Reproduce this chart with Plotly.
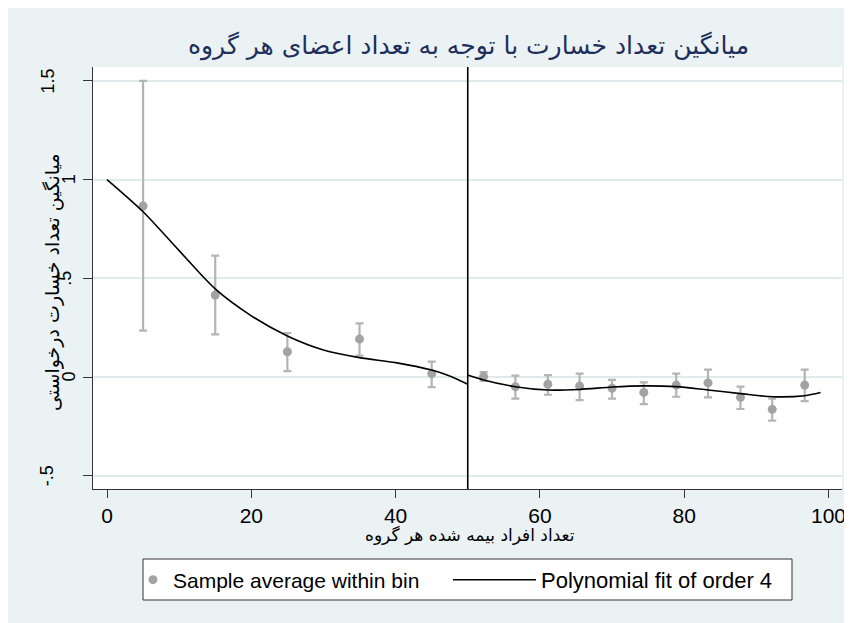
import plotly.graph_objects as go

# ---- data ----
bin_x = [5, 15, 25, 35, 45, 52.2, 56.6, 61.1, 65.5, 70.0, 74.4, 78.9, 83.3, 87.8, 92.2, 96.7]
bin_mean = [0.866, 0.415, 0.128, 0.192, 0.017, 0.002, -0.049, -0.037, -0.046, -0.057,
            -0.078, -0.041, -0.030, -0.103, -0.164, -0.041]
ci_upper = [1.50, 0.615, 0.223, 0.272, 0.078, 0.025, 0.007, 0.010, 0.017, -0.015,
            -0.027, 0.017, 0.037, -0.049, -0.110, 0.037]
ci_lower = [0.235, 0.216, 0.030, 0.108, -0.051, -0.020, -0.110, -0.090, -0.117, -0.110,
            -0.137, -0.100, -0.103, -0.162, -0.221, -0.122]

fit_left_x = [0, 5, 10, 15, 20, 25, 30, 35, 40, 45, 47.5, 50]
fit_left_y = [1.0, 0.837, 0.64, 0.446, 0.31, 0.208, 0.137, 0.098, 0.073, 0.035, 0.005, -0.037]
fit_right_x = [50, 52.2, 56.6, 61.1, 65.5, 70.0, 74.4, 78.9, 83.3, 87.8, 92.2, 96.7, 98.9]
fit_right_y = [0.010, -0.015, -0.049, -0.066, -0.063, -0.051, -0.045, -0.049, -0.066,
               -0.084, -0.100, -0.095, -0.079]

cutoff = 50
x_ticks = [0, 20, 40, 60, 80, 100]
y_ticks = [-0.5, 0, 0.5, 1, 1.5]
y_ticklabels = ["-.5", "0", ".5", "1", "1.5"]

title_text = "میانگین تعداد خسارت با توجه به تعداد اعضای هر گروه"
y_title = "میانگین تعداد خسارت درخواستی"
x_title = "تعداد افراد بیمه شده هر گروه"
legend_points = "Sample average within bin"
legend_fit = "Polynomial fit of order 4"

# ---- styling / layout (figure pixel coords) ----
BG = "#EAF2F3"
GRID = "#E0E9EC"
W, H = 852, 623
L, R, T, B = 85, 834, 59, 481
PW, PH = R - L, B - T
LAT = "Liberation Sans, Arial, sans-serif"
FA = "DejaVu Sans, Liberation Sans, sans-serif"
# horizontal centre (px) of each rotated y tick label, as placed in the reference
ylabel_px = [38.5, 60.5, 57.5, 60.5, 39.5]


def px_x(p):
    return (p - L) / PW


def px_y(p):
    return (B - p) / PH


# axis ranges from the reference's pixel scale (x: 0 at 99px, 7.215 px/unit; y: 0 at 369px, 197.4 px/unit)
x_range = [(L - 99) / 7.215, (R - 99) / 7.215]
y_range = [(369 - B) / 197.4, (369 - T) / 197.4]

err_plus = [u - m for u, m in zip(ci_upper, bin_mean)]
err_minus = [m - l for m, l in zip(bin_mean, ci_lower)]

fig = go.Figure()
fig.add_trace(go.Scatter(
    x=bin_x, y=bin_mean, mode="markers", showlegend=False,
    marker=dict(size=1, color="rgba(0,0,0,0)"),
    error_y=dict(type="data", symmetric=False, array=err_plus, arrayminus=err_minus,
                 color="#B4B4B4", thickness=2.2, width=4),
    hoverinfo="skip"))
fig.add_trace(go.Scatter(
    x=bin_x, y=bin_mean, mode="markers", name=legend_points, legend="legend",
    marker=dict(size=9, color="#A3A3A3")))
fig.add_trace(go.Scatter(
    x=fit_left_x, y=fit_left_y, mode="lines", name=legend_fit, legend="legend2",
    line=dict(color="black", width=1.6, shape="spline", smoothing=0.8)))
fig.add_trace(go.Scatter(
    x=fit_right_x, y=fit_right_y, mode="lines", name=legend_fit, showlegend=False,
    line=dict(color="black", width=1.6, shape="spline", smoothing=0.8)))

fig.add_shape(type="line", xref="x", yref="paper", x0=cutoff, x1=cutoff, y0=0, y1=1,
              line=dict(color="black", width=1.6))

# legend frame
fig.add_shape(type="rect", xref="paper", yref="paper",
              x0=px_x(135), x1=px_x(784), y0=px_y(551), y1=px_y(592),
              fillcolor="white", line=dict(color="#333333", width=1))

# rotated y tick labels (placed on the y scale)
for val, lab, xp in zip(y_ticks, y_ticklabels, ylabel_px):
    fig.add_annotation(text=lab, xref="paper", yref="y", x=px_x(xp), y=val,
                       textangle=-90, showarrow=False, xanchor="center", yanchor="middle",
                       font=dict(family=LAT, size=18, color="black"))

fig.add_annotation(text=y_title, xref="paper", yref="paper",
                   x=px_x(44), y=px_y(275), textangle=-90,
                   showarrow=False, font=dict(family=FA, size=19, color="black"),
                   xanchor="center", yanchor="middle")
fig.add_annotation(text=x_title, xref="paper", yref="paper",
                   x=px_x(462), y=px_y(527),
                   showarrow=False, font=dict(family=FA, size=17, color="black"),
                   xanchor="center", yanchor="middle")

leg_common = dict(orientation="h", xref="paper", yref="paper", xanchor="left",
                  y=px_y(572), yanchor="middle", bgcolor="rgba(0,0,0,0)", borderwidth=0)

fig.update_layout(
    width=W, height=H,
    margin=dict(l=L, r=W - R, t=T, b=H - B, pad=0),
    paper_bgcolor=BG, plot_bgcolor="white",
    title=dict(text=title_text, xref="paper", x=px_x(460.5), xanchor="center",
               yref="container", y=1 - 37 / H, yanchor="middle",
               font=dict(family=FA, size=25, color="#1E2F5C")),
    showlegend=True,
    legend=dict(x=px_x(125), itemwidth=30,
                font=dict(family=LAT, size=21, color="black"), **leg_common),
    legend2=dict(x=px_x(440), itemwidth=83,
                 font=dict(family=LAT, size=22, color="black"), **leg_common),
    xaxis=dict(range=x_range, tickvals=x_ticks,
               showgrid=False, zeroline=False, showline=True, linecolor="#333333",
               linewidth=1, ticks="outside", ticklen=8, tickcolor="#333333",
               tickfont=dict(family=LAT, size=21, color="black")),
    yaxis=dict(range=y_range, tickvals=y_ticks, showticklabels=False,
               showgrid=True, gridcolor=GRID, gridwidth=2, zeroline=False,
               showline=True, linecolor="#333333", linewidth=1,
               ticks="outside", ticklen=9, tickcolor="#333333"),
)

fig.write_html("out.html")
